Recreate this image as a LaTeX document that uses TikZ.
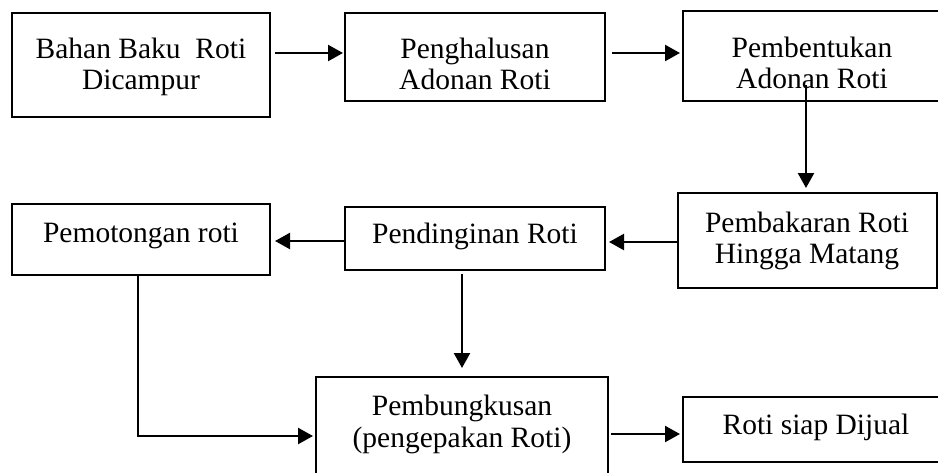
\documentclass[tikz,border=0pt]{standalone}
\usepackage{fontspec}
\setmainfont{Liberation Serif}
\usetikzlibrary{arrows.meta}
\begin{document}
\begin{tikzpicture}[x=1pt,y=-1pt,
  box/.style={draw,line width=1.6pt,inner sep=0pt,outer sep=0pt,anchor=north west},
  txt/.style={anchor=base,inner sep=0pt,font=\fontsize{29.5}{31}\selectfont},
  arr/.style={line width=2.3pt,-{Triangle[length=15pt,width=16pt]}}]
\useasboundingbox (0,0) rectangle (938,472);
\begin{scope}
\clip (0,0) rectangle (938,472);
% boxes
\node[box,minimum width=258pt,minimum height=104pt] (b1) at (12,13) {};
\node[box,minimum width=260pt,minimum height=88pt] (b2) at (345,13) {};
\node[box,minimum width=259pt,minimum height=90pt] (b3) at (683,11) {};
\node[box,minimum width=259pt,minimum height=95pt] (b4) at (678,193) {};
\node[box,minimum width=260pt,minimum height=63pt] (b5) at (345,207) {};
\node[box,minimum width=258pt,minimum height=71pt] (b6) at (12,204) {};
\node[box,minimum width=292pt,minimum height=110pt] (b7) at (316,377) {};
\node[box,minimum width=267pt,minimum height=65pt] (b8) at (683,397) {};
\end{scope}
% texts
\node[txt] (t1) at (141,58) {\begin{tabular}[t]{@{}c@{}}Bahan Baku\ \ Roti\\Dicampur\end{tabular}};
\node[txt] (t2) at (475,58) {\begin{tabular}[t]{@{}c@{}}Penghalusan\\Adonan Roti\end{tabular}};
\node[txt] (t3) at (812,57) {\begin{tabular}[t]{@{}c@{}}Pembentukan\\Adonan Roti\end{tabular}};
\node[txt] (t4) at (807,232) {\begin{tabular}[t]{@{}c@{}}Pembakaran Roti\\Hingga Matang\end{tabular}};
\node[txt] (t5) at (475,243) {Pendinginan Roti};
\node[txt] (t6) at (141,242) {Pemotongan roti};
\node[txt] (t7) at (462,415) {\begin{tabular}[t]{@{}c@{}}Pembungkusan\\[1pt](pengepakan Roti)\end{tabular}};
\node[txt] (t8) at (816,434) {Roti siap Dijual};
% level coordinates
\coordinate (ya) at (0,53);
\coordinate (yb) at (0,242);
\coordinate (yc) at (0,241);
\coordinate (yd) at (0,436);
\coordinate (ye) at (0,434);
\coordinate (xa) at (806,0);
\coordinate (xb) at (462,0);
\coordinate (xc) at (138,0);
\coordinate (s3) at (806,85);
% connectors
\draw[arr,shorten <=5pt,shorten >=2pt] (b1.east |- ya) -- (b2.west |- ya);
\draw[arr,shorten <=7pt,shorten >=3pt] (b2.east |- ya) -- (b3.west |- ya);
\draw[arr,shorten >=5pt] (s3) -- (xa |- b4.north);
\draw[arr,shorten >=4pt] (b4.west |- yb) -- (b5.east |- yb);
\draw[arr,shorten >=5pt] (b5.west |- yc) -- (b6.east |- yc);
\draw[arr,shorten <=4pt,shorten >=9pt] (xb |- b5.south) -- (xb |- b7.north);
\draw[arr,shorten >=3pt] (xc |- b6.south) |- (b7.west |- yd);
\draw[arr,shorten <=3pt,shorten >=3pt] (b7.east |- ye) -- (b8.west |- ye);
\end{tikzpicture}
\end{document}
